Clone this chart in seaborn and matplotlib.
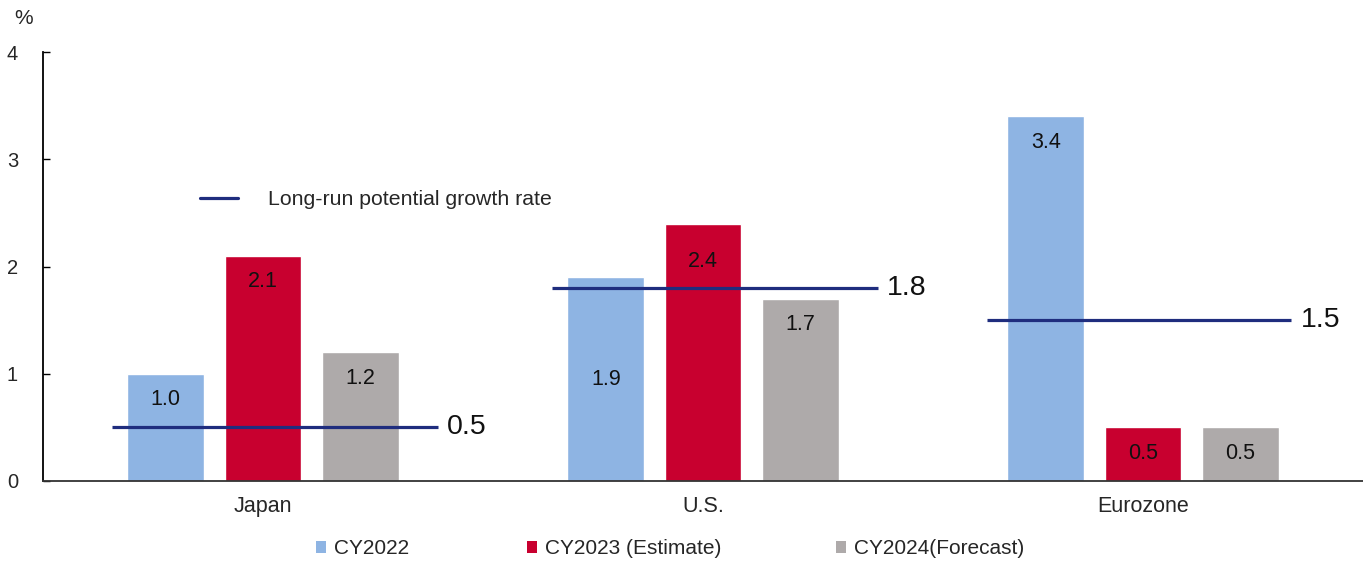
import matplotlib
matplotlib.use("Agg")
import matplotlib.pyplot as plt
from matplotlib.lines import Line2D
from matplotlib.patches import Patch
import pandas as pd
import seaborn as sns

# Real GDP growth by region, %
regions = ["Japan", "U.S.", "Eurozone"]
series = ["CY2022", "CY2023 (Estimate)", "CY2024(Forecast)"]
cy2022 = [1.0, 1.9, 3.4]
cy2023 = [2.1, 2.4, 0.5]
cy2024 = [1.2, 1.7, 0.5]
potential = [0.5, 1.8, 1.5]
potential_label = "Long-run potential growth rate"
yticks = [0, 1, 2, 3, 4]

colors = ["#8EB4E3", "#C8002F", "#AEAAAA"]
line_color = "#1F2D7E"

df = pd.DataFrame({
    "region": regions * 3,
    "series": [s for s in series for _ in regions],
    "value": cy2022 + cy2023 + cy2024,
})

sns.set_style("white")
plt.rcParams["font.family"] = ["Liberation Sans", "DejaVu Sans"]

W, H = 1363, 561
fig = plt.figure(figsize=(W / 100, H / 100), dpi=100)
ax = fig.add_axes([43 / W, 80 / H, 1320 / W, 429 / H])

sns.barplot(data=df, x="region", y="value", hue="series", order=regions,
            hue_order=series, palette=colors, width=0.663, gap=0.21,
            saturation=1, ax=ax, legend=False, errorbar=None)

ax.set_xlim(-0.5, 2.5)
ax.set_ylim(0, 4)
ax.set_yticks(yticks)
ax.set_xlabel("")
ax.set_ylabel("")
for side in ("top", "right"):
    ax.spines[side].set_visible(False)
ax.spines["left"].set_color("black")
ax.spines["left"].set_linewidth(1.3)
ax.spines["bottom"].set_color("#333333")
ax.spines["bottom"].set_linewidth(1.3)
ax.tick_params(axis="y", direction="in", length=5, width=1, color="black",
               labelsize=14.5, pad=18, left=True)
ax.tick_params(axis="x", length=0, labelsize=15.5, pad=11)

# value labels inside the bars
for ci, cont in enumerate(ax.containers):
    for ri, bar in enumerate(cont):
        h = bar.get_height()
        xc = bar.get_x() + bar.get_width() / 2
        if ci == 0 and ri == 1:
            yl = h / 2
        elif ci == 1 and ri == 1:
            yl = h - 0.35
        else:
            yl = h - 0.24
        ax.text(xc, yl, f"{h:.1f}", ha="center", va="center", fontsize=15.5,
                color="#111111")

# long-run potential growth rate per region
for i, v in enumerate(potential):
    x0, x1 = i - 0.343, i + 0.397
    if i == 2:
        x0, x1 = i - 0.355, i + 0.337
    ax.plot([x0, x1], [v, v], color=line_color, lw=2.3, solid_capstyle="butt")
    ax.text(x1 + 0.022, v, f"{v:.1f}", ha="left", va="center", fontsize=20.5,
            color="#111111")

# legend for the potential growth line
fig.legend(handles=[Line2D([], [], color=line_color, lw=2.3)],
           labels=[potential_label], loc="center left",
           bbox_to_anchor=(200 / W, 1 - 200 / H), frameon=False,
           fontsize=15.3, handlelength=1.8, handletextpad=1.4,
           borderpad=0, borderaxespad=0)

# series legend along the bottom
legend_x = [316, 527, 836]
for s, c, lx in zip(series, colors, legend_x):
    fig.legend(handles=[Patch(facecolor=c, edgecolor="none")], labels=[s],
               loc="center left", bbox_to_anchor=(lx / W, 1 - 549 / H),
               frameon=False, borderpad=0, borderaxespad=0,
               handlelength=0.5, handleheight=0.5, handletextpad=0.35,
               fontsize=15)

fig.text(24 / W, 1 - 18 / H, "%", ha="center", va="center", fontsize=15)

fig.savefig("out.png", dpi=100)
